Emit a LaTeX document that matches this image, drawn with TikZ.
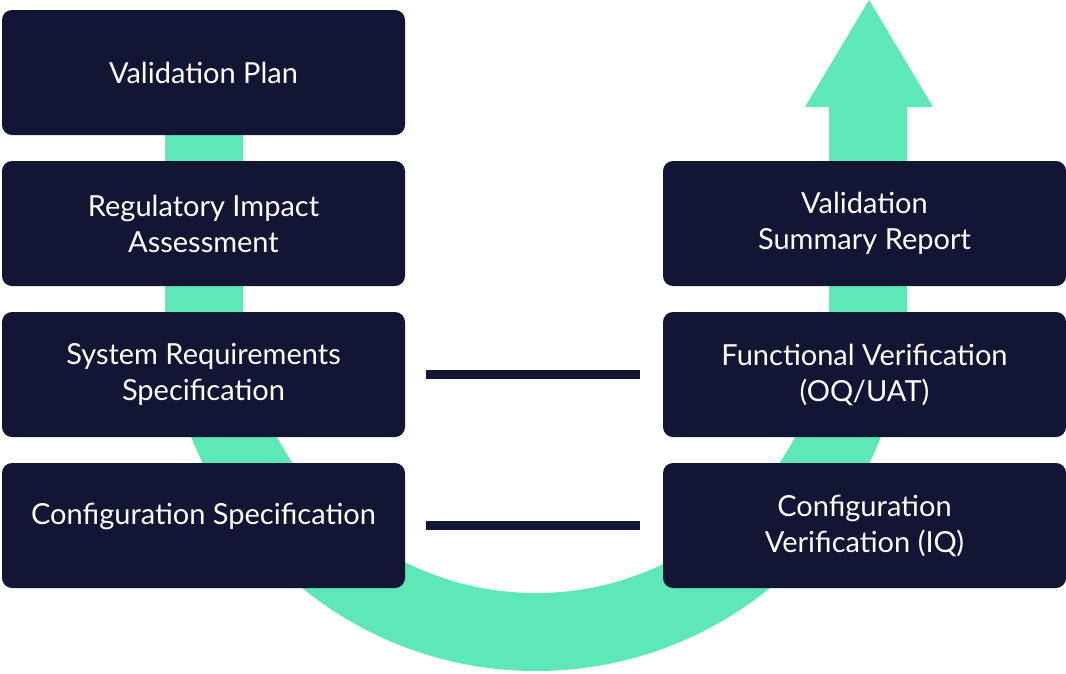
\documentclass[tikz,border=0pt]{standalone}
\usepackage{fontspec}
\setmainfont{Lato}
\definecolor{navy}{HTML}{131535}
\definecolor{mint}{HTML}{5EE8B7}
\begin{document}
\begin{tikzpicture}[x=1pt,y=1pt,
  boxtext/.style={text=white, align=center, font=\fontsize{29}{36}\selectfont},
  box/.style={boxtext, fill=navy, rounded corners=10pt, minimum width=403pt, minimum height=125pt,
    inner sep=0pt},
  link/.style={draw=navy, line width=9pt, shorten <=21pt, shorten >=23pt}]
\useasboundingbox (0,0) rectangle (1066,-673);
% green U arrow
\draw[mint, line width=78pt] (204,-100) -- (204,-300) arc(180:360:332) -- (868,-100);
\fill[mint] (805,-107) -- (869,0) -- (933,-107) -- cycle;
% left column
\node[box] (vp)  at (203.5,-72.5)  {Validation Plan};
\node[box] (ria) at (203.5,-223.5) {Regulatory Impact\\Assessment};
\node[box] (srs) at (203.5,-374.5) {System Requirements\\Specification};
\node[box] (cs)  at (203.5,-525.5) {};
\node[boxtext] (cstext) at ([yshift=9pt]cs.center) {Configuration Specification};
% right column
\node[box] (vsr) at (864.5,-223.5) {Validation\\Summary Report};
\node[box] (fv)  at (864.5,-374.5) {Functional Verification\\(OQ/UAT)};
\node[box] (cv)  at (864.5,-525.5) {Configuration\\Verification (IQ)};
% links
\draw[link] (srs.east) -- (fv.west);
\draw[link] (cs.east) -- (cv.west);
\end{tikzpicture}
\end{document}
